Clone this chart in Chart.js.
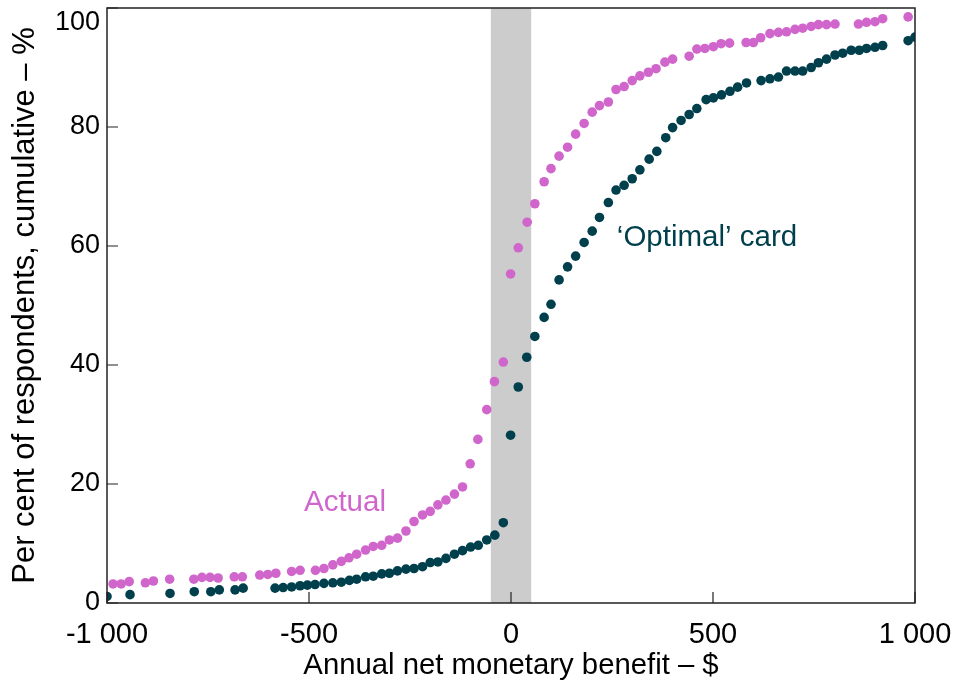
<!DOCTYPE html>
<html>
<head>
<meta charset="utf-8">
<script src="https://cdn.jsdelivr.net/npm/chart.js@4.4.0/dist/chart.umd.min.js"></script>
<style>
  body { margin: 0; background: #fff; }
  #wrap { width: 955px; height: 681px; }
</style>
</head>
<body>
<div id="wrap"><canvas id="cdf" width="955" height="681"></canvas></div>
<script>
// annual net monetary benefit ($) and cumulative share of respondents (%)
var actualX = [-985, -965, -945, -905, -885, -845, -785, -765, -745, -725, -685, -665, -622, -602, -582,
    -543, -522, -484, -463, -441, -420, -401, -382, -360, -341, -320, -301, -281, -260, -240, -219,
    -200, -181, -161, -140, -120, -101, -82, -60, -41, -19, -1, 18, 40, 59, 82, 99, 119, 140, 160,
    181, 201, 219, 241, 260, 280, 300, 319, 340, 359, 381, 400, 441, 460, 480, 501, 520, 541, 582,
    600, 618, 641, 662, 682, 703, 722, 743, 761, 781, 802, 860, 880, 901, 920, 983];
var actualY = [3.2, 3.2, 3.6, 3.4, 3.7, 4.0, 4.0, 4.3, 4.3, 4.2, 4.4, 4.4, 4.7, 4.8, 5.0,
    5.3, 5.5, 5.5, 5.8, 6.4, 7.0, 7.6, 8.2, 8.9, 9.5, 9.7, 10.6, 10.9, 12.1, 13.7, 14.8,
    15.4, 16.5, 17.3, 18.3, 19.5, 23.4, 27.5, 32.5, 37.2, 40.5, 55.3, 59.7, 64.0, 67.1, 70.8, 73.0, 75.1, 76.6, 78.8,
    80.6, 82.5, 83.6, 84.2, 86.3, 86.8, 87.8, 88.6, 89.2, 89.8, 90.9, 91.4, 91.9, 93.1, 93.2, 93.5, 94.0, 94.1, 94.2,
    94.2, 95.0, 95.7, 95.9, 96.0, 96.4, 96.6, 96.9, 97.2, 97.2, 97.3, 97.3, 97.6, 97.7, 98.2, 98.5];

var optimalX = [-1000, -943, -844, -784, -743, -722, -683, -663, -584, -564, -543, -522, -504, -485,
    -463, -441, -420, -400, -382, -360, -341, -320, -301, -281, -260, -240, -219, -200, -181, -161,
    -140, -120, -100, -81, -60, -40, -19, -1, 18, 39, 59, 82, 99, 119, 140, 160, 181, 201, 219, 241,
    260, 280, 300, 319, 342, 361, 383, 400, 421, 441, 460, 483, 501, 521, 542, 561, 583, 619, 641,
    662, 682, 703, 722, 743, 761, 781, 802, 821, 842, 862, 880, 901, 920, 983, 1000];
var optimalY = [1.1, 1.4, 1.6, 1.9, 1.9, 2.2, 2.2, 2.5, 2.5, 2.6, 2.7, 2.9, 3.0, 3.1,
    3.3, 3.4, 3.5, 3.8, 4.0, 4.4, 4.5, 4.9, 5.0, 5.4, 5.7, 5.8, 6.1, 6.8, 6.9, 7.5,
    8.2, 8.8, 9.4, 9.7, 10.6, 11.4, 13.5, 28.2, 36.3, 41.3, 44.8, 48.0, 50.2, 54.3, 56.5, 58.3, 60.6, 62.5, 64.8, 67.3,
    69.4, 70.2, 71.3, 72.8, 74.6, 75.9, 78.2, 79.9, 81.1, 82.1, 83.1, 84.6, 84.9, 85.4, 86.0, 86.7, 87.4, 87.8, 88.1,
    88.4, 89.4, 89.4, 89.4, 90.0, 90.8, 91.4, 92.1, 92.4, 92.9, 92.9, 93.2, 93.4, 93.7, 94.5, 95.1];

var xTicks = [-1000, -500, 0, 500, 1000];
var yTicks = [0, 20, 40, 60, 80, 100];
var bandRange = [-50, 50];

var pink = '#d066cc';
var teal = '#003f4c';
var fontFamily = '"Liberation Sans", Arial, sans-serif';

function toPoints(xs, ys) {
    return xs.map(function (x, i) { return { x: x, y: ys[i] }; });
}

function fmt(v) {
    var s = String(Math.abs(v));
    if (s.length > 3) s = s.slice(0, -3) + ' ' + s.slice(-3);
    return (v < 0 ? '-' : '') + s;
}

var framePlugin = {
    id: 'frame',
    beforeDatasetsDraw: function (chart) {
        var ctx = chart.ctx, a = chart.chartArea, xs = chart.scales.x;
        var x0 = xs.getPixelForValue(bandRange[0]);
        var x1 = xs.getPixelForValue(bandRange[1]);
        ctx.save();
        ctx.fillStyle = '#cccccc';
        ctx.fillRect(x0, a.top, x1 - x0, a.bottom - a.top);
        ctx.restore();
    },
    afterDraw: function (chart) {
        var ctx = chart.ctx, a = chart.chartArea;
        var xs = chart.scales.x, ys = chart.scales.y;
        ctx.save();
        ctx.strokeStyle = '#222';
        ctx.lineWidth = 1.5;
        ctx.strokeRect(a.left, a.top, a.right - a.left, a.bottom - a.top);

        ctx.lineWidth = 1.2;
        ctx.beginPath();
        xTicks.forEach(function (v) {
            var px = xs.getPixelForValue(v);
            ctx.moveTo(px, a.bottom);
            ctx.lineTo(px, a.bottom - 11);
        });
        yTicks.forEach(function (v) {
            var py = ys.getPixelForValue(v);
            ctx.moveTo(a.left, py);
            ctx.lineTo(a.left + 11, py);
        });
        ctx.stroke();

        // y tick labels, kept inside the canvas at the top
        ctx.fillStyle = '#000';
        ctx.font = '27px ' + fontFamily;
        ctx.textAlign = 'right';
        ctx.textBaseline = 'middle';
        yTicks.forEach(function (v) {
            var py = Math.max(ys.getPixelForValue(v), 23);
            ctx.fillText(String(v), a.left - 7, py);
        });

        // series labels
        ctx.font = '29.5px ' + fontFamily;
        ctx.textAlign = 'center';
        ctx.fillStyle = pink;
        ctx.fillText('Actual', xs.getPixelForValue(-411), ys.getPixelForValue(16.9));
        ctx.textAlign = 'left';
        ctx.fillStyle = teal;
        ctx.fillText('\u2018Optimal\u2019 card', xs.getPixelForValue(262), ys.getPixelForValue(61.4));
        ctx.restore();
    }
};

new Chart(document.getElementById('cdf'), {
    type: 'scatter',
    data: {
        datasets: [{
            label: 'Actual',
            data: toPoints(actualX, actualY),
            backgroundColor: pink,
            borderWidth: 0,
            pointRadius: 4.8
        }, {
            label: "'Optimal' card",
            data: toPoints(optimalX, optimalY),
            backgroundColor: teal,
            borderWidth: 0,
            pointRadius: 4.8
        }]
    },
    options: {
        responsive: false,
        animation: false,
        clip: 0,
        layout: { padding: { top: 8, right: 40, left: 0, bottom: 0 } },
        plugins: { legend: { display: false }, tooltip: { enabled: false } },
        scales: {
            x: {
                type: 'linear',
                min: -1000,
                max: 1000,
                afterFit: function (s) { s.height = 78; s.paddingLeft = 0; s.paddingRight = 0; },
                afterBuildTicks: function (s) { s.ticks = xTicks.map(function (v) { return { value: v }; }); },
                grid: { display: false },
                border: { display: false },
                ticks: {
                    padding: 7,
                    color: '#000',
                    maxRotation: 0,
                    font: { family: fontFamily, size: 29 },
                    callback: function (v) { return fmt(v); }
                },
                title: {
                    display: true,
                    text: 'Annual net monetary benefit \u2013 $',
                    color: '#000',
                    padding: { top: 0, bottom: 0 },
                    font: { family: fontFamily, size: 29.3, lineHeight: 1 }
                }
            },
            y: {
                type: 'linear',
                min: 0,
                max: 100,
                afterFit: function (s) { s.width = 107; },
                afterBuildTicks: function (s) { s.ticks = yTicks.map(function (v) { return { value: v }; }); },
                grid: { display: false },
                border: { display: false },
                ticks: { display: false },
                title: {
                    display: true,
                    text: 'Per cent of respondents, cumulative \u2013 %',
                    color: '#000',
                    padding: { top: 10, bottom: 0 },
                    font: { family: fontFamily, size: 31, lineHeight: 1 }
                }
            }
        }
    },
    plugins: [framePlugin]
});
</script>
</body>
</html>
